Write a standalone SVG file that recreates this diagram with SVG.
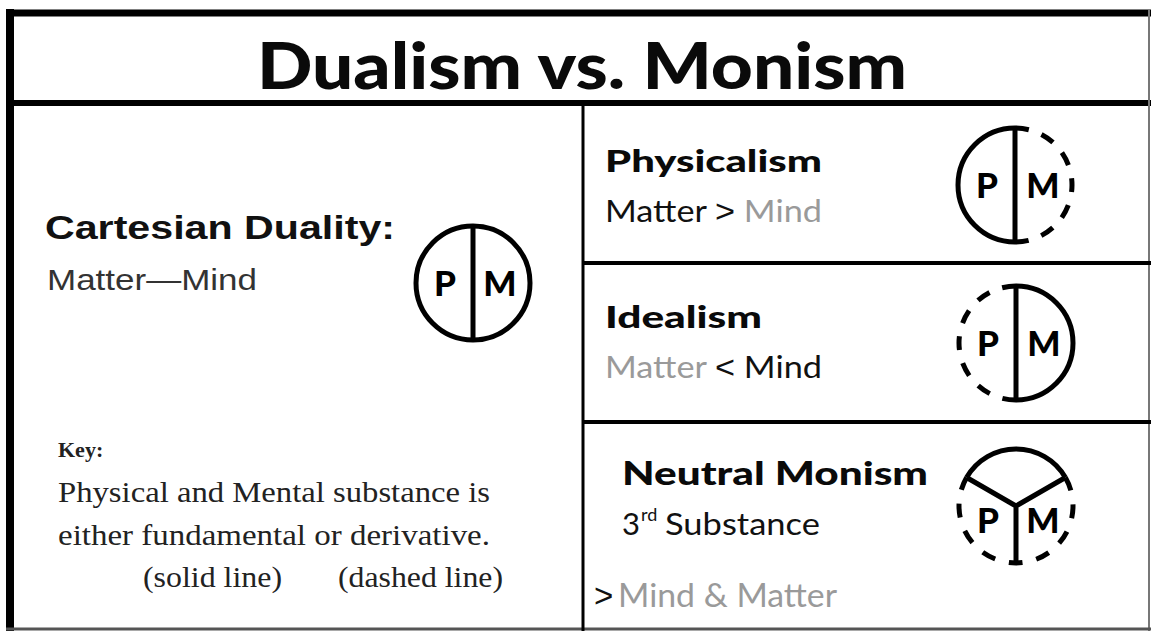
<svg xmlns="http://www.w3.org/2000/svg" width="1151" height="631" viewBox="0 0 1151 631">
<style>
.frame{stroke:#000;fill:none}
.sym{stroke:#000;stroke-width:5;fill:none}
.dash{stroke:#000;stroke-width:5;fill:none;stroke-dasharray:14 13.5}
.dash2{stroke:#000;stroke-width:5;fill:none;stroke-dasharray:14 14.1}
.pm{font-family:Lato,"Liberation Sans",sans-serif;font-weight:900;font-size:35px;fill:#000;text-anchor:middle}
.head{font-family:Lato,"Liberation Sans",sans-serif;font-weight:900;fill:#0a0a0a}
.sub{font-family:Lato,"Liberation Sans",sans-serif;font-weight:400;fill:#111}
.op{font-family:"Liberation Sans",Arial,sans-serif;fill:#111}
.grey{fill:#9a9a9a}
.key{font-family:"Liberation Serif",serif;fill:#222}
</style>
<rect width="1151" height="631" fill="#fff"/>
<g id="frame">
<line class="frame" x1="6" y1="13" x2="1151" y2="13" stroke-width="7"/>
<line class="frame" x1="10" y1="9" x2="10" y2="631" stroke-width="8"/>
<line class="frame" x1="6" y1="103" x2="1151" y2="103" stroke-width="6"/>
<line x1="1149" y1="10" x2="1149" y2="631" stroke="#777" stroke-width="2"/>
<line x1="6" y1="629" x2="1151" y2="629" stroke="#555" stroke-width="3"/>
<line class="frame" x1="583" y1="103" x2="583" y2="631" stroke-width="3"/>
<line class="frame" x1="583" y1="263" x2="1151" y2="263" stroke-width="4"/>
<line class="frame" x1="583" y1="422" x2="1151" y2="422" stroke-width="4"/>
</g>
<g id="title">
<text x="257" y="89" class="head" font-size="65" textLength="650" lengthAdjust="spacingAndGlyphs">Dualism vs. Monism</text>
</g>
<g id="cartesian">
<text x="45" y="239" font-family="'Liberation Sans',Arial,sans-serif" font-weight="bold" fill="#111" font-size="34" textLength="350" lengthAdjust="spacingAndGlyphs">Cartesian Duality:</text>
<text x="47" y="290" font-family="'Liberation Sans',Arial,sans-serif" font-size="30" fill="#333" textLength="210" lengthAdjust="spacingAndGlyphs">Matter—Mind</text>
<circle class="sym" cx="473" cy="283" r="57"/>
<line class="sym" x1="473" y1="226" x2="473" y2="340"/>
<text class="pm" x="445" y="296">P</text>
<text class="pm" x="500" y="296">M</text>
</g>
<g id="key">
<text x="58" y="457" class="key" font-size="22" font-weight="bold">Key:</text>
<text x="58" y="502" class="key" font-size="29" textLength="432" lengthAdjust="spacingAndGlyphs">Physical and Mental substance is</text>
<text x="58" y="545" class="key" font-size="29" textLength="432" lengthAdjust="spacingAndGlyphs">either fundamental or derivative.</text>
<text x="143" y="587" class="key" font-size="29" textLength="139" lengthAdjust="spacingAndGlyphs">(solid line)</text>
<text x="338" y="587" class="key" font-size="29" textLength="165" lengthAdjust="spacingAndGlyphs">(dashed line)</text>
</g>
<g id="physicalism">
<text x="605" y="172" class="head" font-size="31" textLength="217" lengthAdjust="spacingAndGlyphs">Physicalism</text>
<text x="605" y="222" class="sub" font-size="31" textLength="217" lengthAdjust="spacingAndGlyphs">Matter <tspan class="op">&gt;</tspan> <tspan class="grey">Mind</tspan></text>
<path class="sym" d="M1015,128 A57,57 0 0 0 1015,242"/>
<path class="dash" d="M1015,128 A57,57 0 0 1 1015,242"/>
<line class="sym" x1="1015" y1="128" x2="1015" y2="242"/>
<text class="pm" x="987" y="198">P</text>
<text class="pm" x="1043" y="198">M</text>
</g>
<g id="idealism">
<text x="605" y="328" class="head" font-size="31" textLength="157" lengthAdjust="spacingAndGlyphs">Idealism</text>
<text x="605" y="378" class="sub" font-size="31" textLength="217" lengthAdjust="spacingAndGlyphs"><tspan class="grey">Matter</tspan> <tspan class="op">&lt;</tspan> Mind</text>
<path class="dash" d="M1016,286 A57,57 0 0 0 1016,400"/>
<path class="sym" d="M1016,286 A57,57 0 0 1 1016,400"/>
<line class="sym" x1="1016" y1="286" x2="1016" y2="400"/>
<text class="pm" x="988" y="356">P</text>
<text class="pm" x="1044" y="356">M</text>
</g>
<g id="neutral-monism">
<text x="622" y="485" class="head" font-size="32" textLength="306" lengthAdjust="spacingAndGlyphs">Neutral Monism</text>
<text x="622" y="535" class="sub" font-size="31">3</text>
<text x="641" y="521" class="sub" font-size="18">rd</text>
<text x="665" y="535" class="sub" font-size="31" textLength="155" lengthAdjust="spacingAndGlyphs">Substance</text>
<text x="594" y="607" class="op" font-size="33">&gt;</text>
<text x="618" y="607" class="sub grey" font-size="33" textLength="219" lengthAdjust="spacingAndGlyphs">Mind &amp; Matter</text>
<path class="sym" d="M966.6,477.5 A57,57 0 0 1 1065.4,477.5"/>
<path class="dash2" d="M1065.4,477.5 A57,57 0 1 1 966.6,477.5"/>
<path class="sym" d="M966.6,477.5 L1016,506 L1065.4,477.5 M1016,506 L1016,563" stroke-linejoin="round"/>
<text class="pm" x="988" y="533">P</text>
<text class="pm" x="1043" y="533">M</text>
</g>
</svg>
